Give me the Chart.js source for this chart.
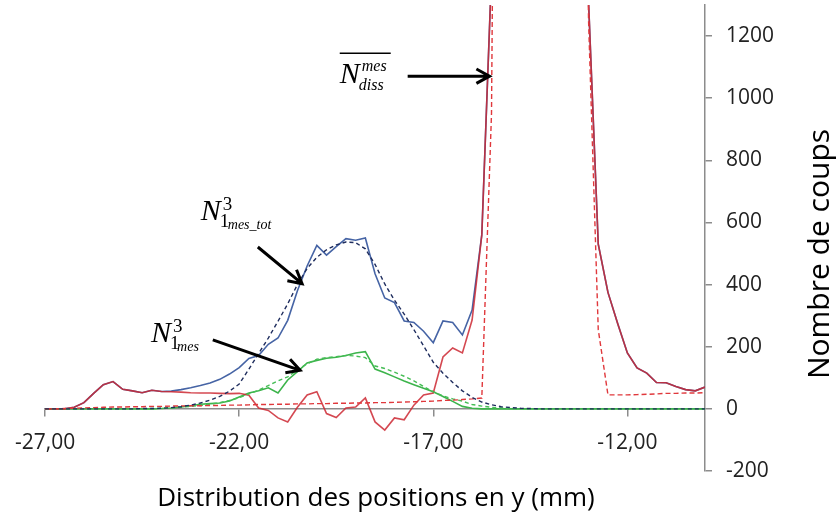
<!DOCTYPE html>
<html>
<head>
  <title>Distribution des positions en y</title>
  <meta http-equiv="Content-Type" content="text/html; charset=utf-8" />
  <script src="https://cdn.jsdelivr.net/npm/chart.js@4.4.0/dist/chart.umd.min.js"></script>
  <style>
    html, body {
      margin: 0;
      padding: 0;
      background-color: #ffffff;
    }
  </style>
</head>
<body>
  <canvas id="chart" width="839" height="518"></canvas>
  <script>
    // positions en y (mm), pas de 0,25
    var positions = [-27, -26.75, -26.5, -26.25, -26, -25.75, -25.5, -25.25, -25, -24.75, -24.5, -24.25,
      -24, -23.75, -23.5, -23.25, -23, -22.75, -22.5, -22.25, -22, -21.75, -21.5, -21.25,
      -21, -20.75, -20.5, -20.25, -20, -19.75, -19.5, -19.25, -19, -18.75, -18.5, -18.25,
      -18, -17.75, -17.5, -17.25, -17, -16.75, -16.5, -16.25, -16, -15.75, -15.5, -15.25,
      -15, -14.75, -14.5, -14.25, -14, -13.75, -13.5, -13.25, -13, -12.75, -12.5, -12.25,
      -12, -11.75, -11.5, -11.25, -11, -10.75, -10.5, -10.25, -10];

    // N1mes_tot mesure (bleu)
    var totMes = [0, 0, 0, 5, 20, 50, 78, 88, 63, 58, 52, 60,
      56, 57, 62, 68, 75, 83, 95, 112, 133, 162, 172, 208,
      228, 285, 380, 460, 526, 495, 522, 548, 543, 550, 435, 357,
      342, 283, 278, 250, 213, 283, 278, 238, 318, 560, 1400, 5200,
      8600, 10800, 11900, 12200, 11600, 9800, 7100, 3800, 1310, 530, 375, 275,
      180, 132, 115, 85, 84, 72, 62, 58, 70];

    // ajustement N1mes_tot (bleu pointille)
    var totFit = [0, 0, 0, 0, 0, 0, 0, 0, 0, 0, 1, 1,
      2, 4, 7, 12, 19, 28, 40, 57, 80, 128, 178, 228,
      282, 338, 400, 452, 488, 512, 528, 537, 535, 515, 465, 402,
      350, 305, 255, 203, 150, 115, 85, 58, 37, 22, 13, 7,
      4, 2, 1, 0, 0, 0, 0, 0, 0, 0, 0, 0,
      0, 0, 0, 0, 0, 0, 0, 0, 0];

    // N diss mesure (rouge)
    var dissMes = [0, 0, 0, 5, 20, 50, 78, 88, 63, 58, 52, 60,
      56, 55, 54, 52, 51, 51, 50, 49, 50, 44, 3, -5,
      -29, -42, 5, 45, 55, -15, -28, 3, 6, 35, -42, -68,
      -29, -35, 12, 45, 51, 167, 196, 180, 286, 560, 1400, 5200,
      8600, 10800, 11900, 12200, 11600, 9800, 7100, 3800, 1310, 530, 375, 275,
      180, 132, 115, 85, 84, 72, 62, 58, 70];

    // N diss moyen (rouge pointille)
    var dissFit = [0, 0, 1, 2, 3, 4, 5, 6, 6, 7, 7, 8,
      8, 9, 9, 10, 10, 11, 11, 12, 12, 13, 14, 14,
      15, 15, 16, 16, 17, 17, 18, 18, 19, 19, 20, 20,
      21, 22, 23, 24, 25, 27, 28, 30, 32, 35, 950, 5000,
      8400, 10600, 11700, 12000, 11400, 9600, 6900, 3600, 1250, 255, 45, 45,
      45, 46, 47, 48, 50, 50, 51, 51, 52];

    // N1mes mesure (vert)
    var sigMes = [0, 0, 0, 0, 0, 0, 0, 0, 0, 0, 0, 0,
      1, 3, 6, 10, 15, 17, 19, 25, 38, 51, 58, 68,
      51, 93, 120, 148, 156, 163, 166, 172, 180, 184, 128, 116,
      103, 90, 78, 66, 55, 40, 24, 8, 2, 0, 0, 0,
      0, 0, 0, 0, 0, 0, 0, 0, 0, 0, 0, 0,
      0, 0, 0, 0, 0, 0, 0, 0, 0];

    // ajustement N1mes (vert pointille)
    var sigFit = [0, 0, 0, 0, 0, 0, 0, 0, 0, 0, 0, 1,
      2, 3, 5, 8, 11, 15, 20, 27, 36, 48, 60, 75,
      90, 103, 125, 145, 160, 165, 168, 172, 170, 165, 138, 130,
      118, 105, 90, 72, 55, 42, 32, 25, 14, 9, 5, 3,
      1, 0, 0, 0, 0, 0, 0, 0, 0, 0, 0, 0,
      0, 0, 0, 0, 0, 0, 0, 0, 0];

    var xTicks = [-27, -22, -17, -12];
    var yTicks = [-200, 0, 200, 400, 600, 800, 1000, 1200];
    var xTitle = "Distribution des positions en y (mm)";
    var yTitle = "Nombre de coups";

    function pts(values) {
      return positions.map(function (x, i) { return { x: x, y: values[i] }; });
    }

    function serie(values, color, width, dash) {
      return {
        data: pts(values),
        borderColor: color,
        borderWidth: width,
        borderDash: dash || [],
        pointRadius: 0,
        tension: 0,
        fill: false
      };
    }

    function arrow(ctx, x1, y1, x2, y2) {
      var a = Math.atan2(y2 - y1, x2 - x1), h = 15, s = 0.5;
      ctx.beginPath();
      ctx.moveTo(x1, y1);
      ctx.lineTo(x2, y2);
      ctx.moveTo(x2 - h * Math.cos(a - s), y2 - h * Math.sin(a - s));
      ctx.lineTo(x2, y2);
      ctx.lineTo(x2 - h * Math.cos(a + s), y2 - h * Math.sin(a + s));
      ctx.stroke();
    }

    // fleches et etiquettes (en coordonnees des donnees)
    var annotations = {
      id: 'annotations',
      afterDraw: function (chart) {
        var ctx = chart.ctx;
        var sx = chart.scales.x, sy = chart.scales.y;
        var px = function (v) { return sx.getPixelForValue(v); };
        var py = function (v) { return sy.getPixelForValue(v); };
        ctx.save();

        ctx.strokeStyle = '#000';
        ctx.lineWidth = 3;
        ctx.lineJoin = 'miter';
        arrow(ctx, px(-17.66), py(1071), px(-15.55), py(1071));
        arrow(ctx, px(-21.52), py(521), px(-20.38), py(403));
        arrow(ctx, px(-22.68), py(222), px(-20.43), py(124));

        ctx.fillStyle = '#000';
        ctx.textAlign = 'left';
        ctx.textBaseline = 'alphabetic';

        // N diss
        var x0 = px(-19.41), y0 = py(1048);
        ctx.font = 'italic 30px "Liberation Serif"';
        ctx.fillText('N', x0, y0);
        ctx.font = 'italic 16px "Liberation Serif"';
        ctx.fillText('mes', x0 + 22, y0 - 12);
        ctx.fillText('diss', x0 + 19, y0 + 7);
        ctx.lineWidth = 1.5;
        ctx.beginPath();
        ctx.moveTo(x0, y0 - 30);
        ctx.lineTo(x0 + 51, y0 - 30);
        ctx.stroke();

        // N1mes_tot
        x0 = px(-22.99); y0 = py(608);
        ctx.font = 'italic 30px "Liberation Serif"';
        ctx.fillText('N', x0, y0);
        ctx.font = '19px "Liberation Serif"';
        ctx.fillText('3', x0 + 22, y0 - 10);
        ctx.fillText('1', x0 + 19, y0 + 7);
        ctx.font = 'italic 14px "Liberation Serif"';
        ctx.fillText('mes_tot', x0 + 27, y0 + 9);

        // N1mes
        x0 = px(-24.27); y0 = py(215);
        ctx.font = 'italic 30px "Liberation Serif"';
        ctx.fillText('N', x0, y0);
        ctx.font = '19px "Liberation Serif"';
        ctx.fillText('3', x0 + 22, y0 - 10);
        ctx.fillText('1', x0 + 19, y0 + 7);
        ctx.font = 'italic 14px "Liberation Serif"';
        ctx.fillText('mes', x0 + 26, y0 + 9);

        // titres des axes
        ctx.font = '26px "Open Sans"';
        ctx.textAlign = 'center';
        ctx.fillText(xTitle, 376, 506);
        ctx.translate(829, 254);
        ctx.rotate(-Math.PI / 2);
        ctx.font = '30px "Open Sans"';
        ctx.fillText(yTitle, 0, 0);

        ctx.restore();
      }
    };

    var ctx = document.getElementById('chart');
    var chart = new Chart(ctx, {
      type: 'line',
      data: {
        datasets: [
          serie(totFit, '#1f2d5e', 1.4, [4, 3]),
          serie(dissFit, '#e0383c', 1.4, [5, 3]),
          serie(sigFit, '#45bd55', 1.4, [4, 3]),
          serie(dissMes, 'rgba(205, 40, 50, 0.85)', 1.6),
          serie(sigMes, '#3cb44b', 1.6),
          serie(totMes, '#4664a5', 1.6)
        ]
      },
      options: {
        responsive: false,
        animation: false,
        events: [],
        layout: {
          padding: { left: 44, top: 5, right: 0, bottom: 47 }
        },
        plugins: {
          legend: { display: false },
          tooltip: { enabled: false }
        },
        scales: {
          x: {
            type: 'linear',
            min: -27,
            max: -10,
            position: { y: 0 },
            border: { color: '#8c8c8c', width: 1.5 },
            grid: { drawOnChartArea: false, tickLength: 7, color: '#8c8c8c', lineWidth: 1.5 },
            ticks: {
              font: { family: 'Open Sans', size: 21 },
              color: '#222',
              padding: 15,
              maxRotation: 0,
              autoSkip: false,
              callback: function (v) { return v.toFixed(2).replace('.', ','); }
            },
            afterBuildTicks: function (s) { s.ticks = xTicks.map(function (v) { return { value: v }; }); }
          },
          y: {
            type: 'linear',
            position: 'right',
            min: -200,
            max: 1300,
            border: { color: '#8c8c8c', width: 1.5 },
            grid: { drawOnChartArea: false, tickLength: 7, color: '#8c8c8c', lineWidth: 1.5 },
            ticks: {
              font: { family: 'Open Sans', size: 21 },
              color: '#222',
              padding: 14,
              callback: function (v) { return String(v); }
            },
            afterBuildTicks: function (s) { s.ticks = yTicks.map(function (v) { return { value: v }; }); },
            afterFit: function (s) {
              s.width = 134;
              s.paddingTop = 0;
              s.paddingBottom = 0;
            }
          }
        }
      },
      plugins: [annotations]
    });
  </script>
</body>
</html>
